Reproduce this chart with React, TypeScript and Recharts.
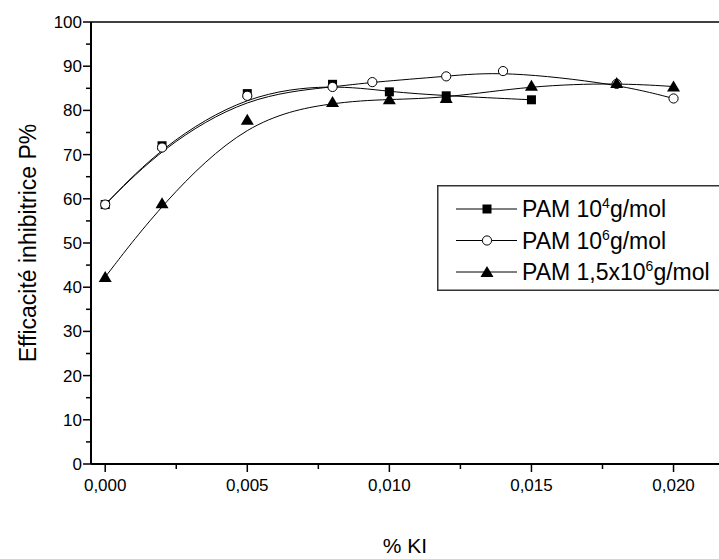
import { LineChart, Line, XAxis, YAxis, Legend, ReferenceLine } from "recharts";

// % KI (x) and inhibition efficiency P% (y) for each PAM
const kiPam4 = [0, 0.002, 0.005, 0.008, 0.01, 0.012, 0.015];
const effPam4 = [58.7, 72.0, 83.8, 85.9, 84.2, 83.3, 82.4];

const kiPam6 = [0, 0.002, 0.005, 0.008, 0.0094, 0.012, 0.014, 0.018, 0.02];
const effPam6 = [58.7, 71.6, 83.3, 85.3, 86.4, 87.7, 88.9, 86.0, 82.7];

const kiPam15 = [0, 0.002, 0.005, 0.008, 0.01, 0.012, 0.015, 0.018, 0.02];
const effPam15 = [42.3, 59.0, 77.9, 81.9, 82.5, 82.8, 85.6, 86.2, 85.4];

const xTicks = [0, 0.0025, 0.005, 0.0075, 0.01, 0.0125, 0.015, 0.0175, 0.02];
const yTicks = [0, 5, 10, 15, 20, 25, 30, 35, 40, 45, 50, 55, 60, 65, 70, 75, 80, 85, 90, 95, 100];

const legendLabels = [
  { base: "PAM 10", exp: "4", unit: "g/mol" },
  { base: "PAM 10", exp: "6", unit: "g/mol" },
  { base: "PAM 1,5x10", exp: "6", unit: "g/mol" },
];

const FONT = '"Liberation Sans", Arial, sans-serif';

const pam4 = kiPam4.map((x, i) => ({ x, y: effPam4[i] }));
const pam6 = kiPam6.map((x, i) => ({ x, y: effPam6[i] }));
const pam15 = kiPam15.map((x, i) => ({ x, y: effPam15[i] }));

function SquareMark({ cx, cy }: any) {
  return <rect x={cx - 4.5} y={cy - 4.5} width={9} height={9} fill="#000" />;
}
function CircleMark({ cx, cy }: any) {
  return <circle cx={cx} cy={cy} r={4.6} fill="#fff" stroke="#000" strokeWidth={1} />;
}
function TriangleMark({ cx, cy }: any) {
  return (
    <path
      d={`M${cx},${cy - 6} L${cx + 6.5},${cy + 5} L${cx - 6.5},${cy + 5} Z`}
      fill="#000"
    />
  );
}

function XTick({ x, y, payload }: any) {
  const v = payload.value as number;
  const major = Math.round(v / 0.0025) % 2 === 0;
  return (
    <g>
      <line x1={x} x2={x} y1={y} y2={y + (major ? 8 : 5)} stroke="#000" strokeWidth={1.5} />
      {major && (
        <text x={x} y={y + 27} textAnchor="middle" fontSize={17} fontFamily={FONT} fill="#000">
          {v.toFixed(3).replace(".", ",")}
        </text>
      )}
    </g>
  );
}

function YTick({ x, y, payload }: any) {
  const v = payload.value as number;
  const major = v % 10 === 0;
  return (
    <g>
      <line x1={x - (major ? 8 : 5)} x2={x} y1={y} y2={y} stroke="#000" strokeWidth={1.5} />
      {major && (
        <text x={x - 9} y={y + 6} textAnchor="end" fontSize={17} fontFamily={FONT} fill="#000">
          {v}
        </text>
      )}
    </g>
  );
}

function YTitle({ viewBox }: any) {
  const cy = viewBox.y + viewBox.height / 2;
  return (
    <text
      x={36}
      y={cy}
      transform={`rotate(-90 36 ${cy})`}
      textAnchor="middle"
      fontSize={23}
      fontFamily={FONT}
      fill="#000"
    >
      Efficacité inhibitrice P%
    </text>
  );
}

function XTitle({ viewBox }: any) {
  const cx = viewBox.x + viewBox.width / 2;
  return (
    <text x={cx} y={553} textAnchor="middle" fontSize={21} fontFamily={FONT} fill="#000">
      % KI
    </text>
  );
}

function LegendBox() {
  const marks = [
    <rect key="s" x={45.5} y={-4.5} width={9} height={9} fill="#000" />,
    <circle key="c" cx={50} cy={0} r={4.6} fill="#fff" stroke="#000" />,
    <path key="t" d="M50,-6 L56.5,5 L43.5,5 Z" fill="#000" />,
  ];
  return (
    <svg width={300} height={106} style={{ display: "block" }}>
      <rect x={0.75} y={0.75} width={300} height={104.5} fill="#fff" stroke="#333" strokeWidth={1.5} />
      {legendLabels.map((l, i) => (
        <g key={i} transform={`translate(0 ${24 + i * 31.5})`}>
          <line x1={19} x2={80} y1={0} y2={0} stroke="#000" strokeWidth={1} />
          {marks[i]}
          <text x={85} y={8} fontSize={23} fontFamily={FONT} fill="#000">
            {l.base}
            <tspan dy={-9} fontSize={14}>
              {l.exp}
            </tspan>
            <tspan dy={9}>{l.unit}</tspan>
          </text>
        </g>
      ))}
    </svg>
  );
}

export default function App() {
  return (
    <div
      style={{
        position: "absolute",
        left: 0,
        top: 0,
        width: 719,
        height: 559,
        overflow: "hidden",
        background: "#fff",
      }}
    >
      <LineChart width={719} height={559} margin={{ top: 22, right: 0, bottom: 0, left: 0 }}>
        <XAxis
          type="number"
          dataKey="x"
          domain={[-0.0005, 0.0216]}
          ticks={xTicks}
          interval={0}
          allowDataOverflow
          height={95}
          tickSize={0}
          tickMargin={0}
          tick={<XTick />}
          axisLine={{ stroke: "#000", strokeWidth: 2 }}
          label={<XTitle />}
        />
        <YAxis
          type="number"
          dataKey="y"
          domain={[0, 100]}
          ticks={yTicks}
          interval={0}
          width={91}
          tickSize={0}
          tickMargin={0}
          tick={<YTick />}
          axisLine={{ stroke: "#000", strokeWidth: 2 }}
          label={<YTitle />}
        />
        <ReferenceLine y={100} stroke="#000" strokeWidth={1.3} />
        <Legend
          layout="vertical"
          align="center"
          verticalAlign="middle"
          wrapperStyle={{ left: 437, top: 185, width: 300, height: 106 }}
          content={() => <LegendBox />}
        />
        <Line
          data={pam4}
          dataKey="y"
          type="basis"
          stroke="#000"
          strokeWidth={1}
          dot={(p: any) => <SquareMark key={`s${p.index}`} {...p} />}
          isAnimationActive={false}
        />
        <Line
          data={pam6}
          dataKey="y"
          type="basis"
          stroke="#000"
          strokeWidth={1}
          dot={(p: any) => <CircleMark key={`c${p.index}`} {...p} />}
          isAnimationActive={false}
        />
        <Line
          data={pam15}
          dataKey="y"
          type="basis"
          stroke="#000"
          strokeWidth={1}
          dot={(p: any) => <TriangleMark key={`t${p.index}`} {...p} />}
          isAnimationActive={false}
        />
      </LineChart>
    </div>
  );
}
